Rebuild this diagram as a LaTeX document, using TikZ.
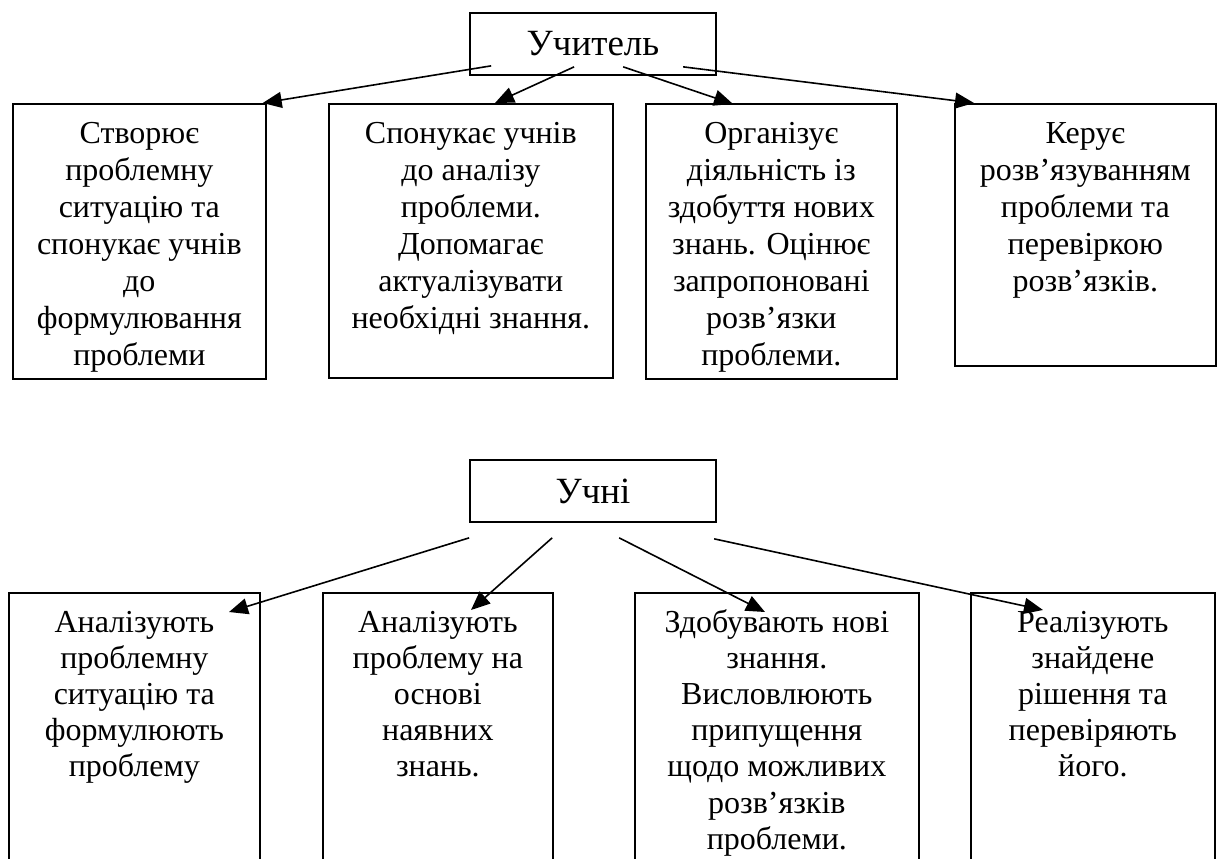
\documentclass[tikz,border=0pt]{standalone}
\usepackage{fontspec}
\setmainfont{Liberation Serif}
\usetikzlibrary{arrows.meta}

% text of a box: fixed height, lines from the top
\newcommand{\celltext}[3]{\parbox[c][#1][t]{#2}{\centering\vspace*{14pt}\strut #3}}

\begin{document}
\begin{tikzpicture}[x=1pt,y=-1pt,
	head/.style={draw, line width=1.7pt, minimum width=246pt, minimum height=62pt, inner sep=0pt, font=\fontsize{37}{44}\selectfont},
	stage/.style={draw, line width=1.7pt, inner sep=0pt, anchor=north west, font=\fontsize{32}{37}\selectfont},
	lowstage/.style={stage, font=\fontsize{32}{36.2}\selectfont},
	link/.style={line width=1.6pt, -{Triangle[length=19pt,width=16pt]}}]
	\path[use as bounding box, clip] (0,0) rectangle (1223,859);

	% teacher
	\node[head] (teacher) at (593,44) {Учитель};
	\node[stage] (t1) at (12,103) {\celltext{275pt}{253pt}{Створює\\ проблемну\\ ситуацію та\\ спонукає учнів\\ до\\ формулювання\\ проблеми}};
	\node[stage] (t2) at (328,103) {\celltext{274pt}{284pt}{Спонукає учнів\\ до аналізу\\ проблеми.\\ Допомагає\\ актуалізувати\\ необхідні знання.}};
	\node[stage] (t3) at (645,103) {\celltext{275pt}{251pt}{Організує\\ діяльність із\\ здобуття нових\\ знань. Оцінює\\ запропоновані\\ розв’язки\\ проблеми.}};
	\node[stage] (t4) at (954,103) {\celltext{262pt}{261pt}{Керує\\ розв’язуванням\\ проблеми та\\ перевіркою\\ розв’язків.}};

	\draw[link] ([shift={(22,-10)}]teacher.south west) -- ([shift={(-4,0)}]t1.north east);
	\draw[link] ([shift={(105,-9)}]teacher.south west) -- ([shift={(167,0)}]t2.north west);
	\draw[link] ([shift={(154,-9)}]teacher.south west) -- ([shift={(88,1)}]t3.north west);
	\draw[link] ([shift={(214,-9)}]teacher.south west) -- ([shift={(20,0)}]t4.north west);

	% pupils
	\node[head] (pupils) at (593,491) {Учні};
	\node[lowstage] (p1) at (8,592) {\celltext{290pt}{251pt}{Аналізують\\ проблемну\\ ситуацію та\\ формулюють\\ проблему}};
	\node[lowstage] (p2) at (322,592) {\celltext{290pt}{230pt}{Аналізують\\ проблему на\\ основі\\ наявних\\ знань.}};
	\node[lowstage] (p3) at (634,592) {\celltext{290pt}{284pt}{Здобувають нові\\ знання.\\ Висловлюють\\ припущення\\ щодо можливих\\ розв’язків\\ проблеми.}};
	\node[lowstage] (p4) at (970,592) {\celltext{290pt}{244pt}{Реалізують\\ знайдене\\ рішення та\\ перевіряють\\ його.}};

	\draw[link] ([shift={(0,15)}]pupils.south west) -- ([shift={(221,20)}]p1.north west);
	\draw[link] ([shift={(83,15)}]pupils.south west) -- ([shift={(149,18)}]p2.north west);
	\draw[link] ([shift={(150,15)}]pupils.south west) -- ([shift={(131,20)}]p3.north west);
	\draw[link] ([shift={(245,16)}]pupils.south west) -- ([shift={(73,18)}]p4.north west);
\end{tikzpicture}
\end{document}
